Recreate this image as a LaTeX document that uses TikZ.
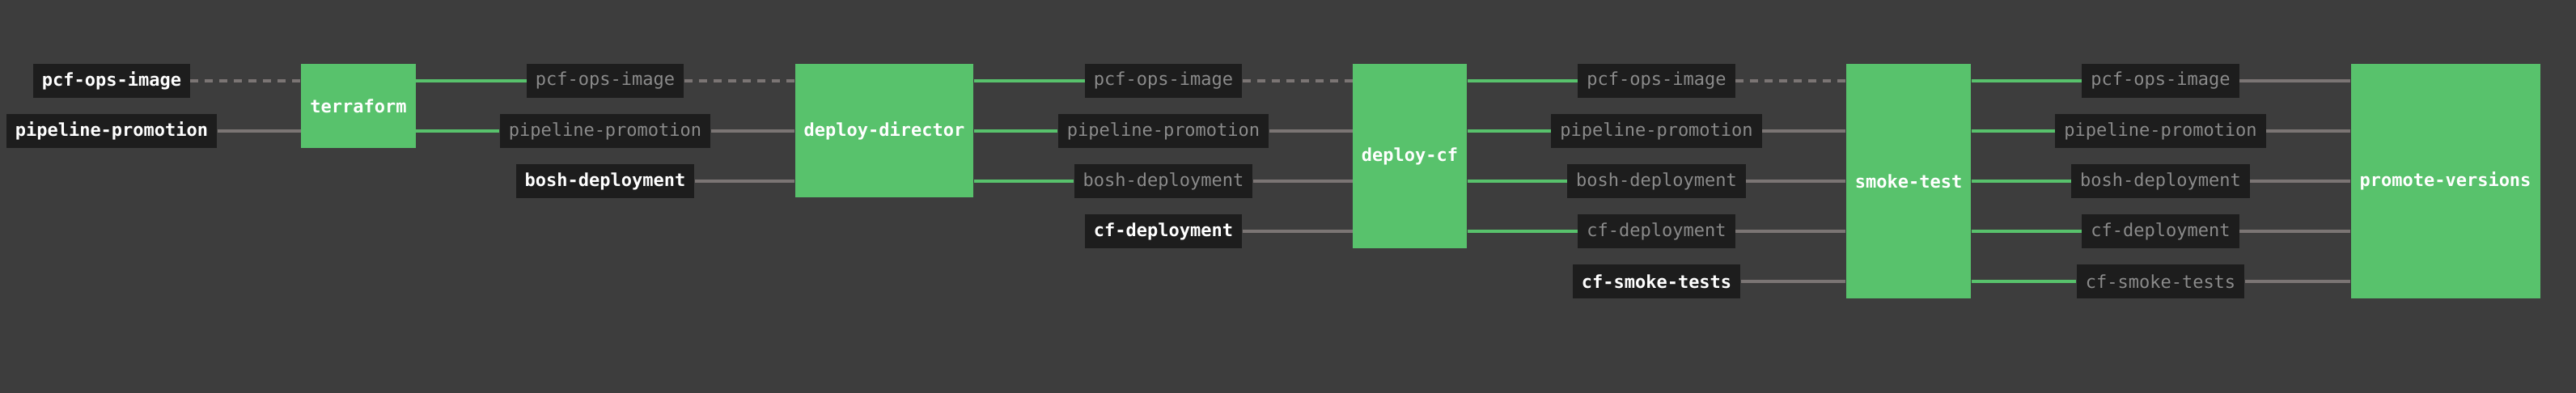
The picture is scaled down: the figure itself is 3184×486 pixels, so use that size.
\documentclass[tikz,border=0pt]{standalone}
\usepackage{fontspec}
\setmonofont{DejaVu Sans Mono}
\definecolor{pipebg}{HTML}{3D3D3D}
\definecolor{resbg}{HTML}{1D1D1D}
\definecolor{jobgreen}{HTML}{58C26C}
\definecolor{wiregray}{HTML}{7B7574}
\definecolor{passedtext}{HTML}{8B8B8B}

\begin{document}
\begin{tikzpicture}[x=0.5pt,y=-0.5pt,
  res/.style={fill=resbg, text=white, font=\ttfamily\bfseries\fontsize{11}{13}\selectfont,
    inner xsep=5.5pt, inner ysep=0pt, minimum height=21pt},
  passed/.style={res, text=passedtext, font=\ttfamily\fontsize{11}{13}\selectfont},
  job/.style={fill=jobgreen, text=white, font=\ttfamily\bfseries\fontsize{11}{13}\selectfont,
    inner xsep=5.5pt, inner ysep=0pt},
  wire/.style={draw=wiregray, line width=2pt},
  dwire/.style={wire, dash pattern=on 5pt off 4pt},
  gwire/.style={draw=jobgreen, line width=2pt}]
\fill[pipebg] (0,0) rectangle (3184,486);
\useasboundingbox (0,0) rectangle (3184,486);

% terraform
\node[res] (pcfa) at (138,100) {pcf-ops-image};
\node[res] (ppa) at (138,162) {pipeline-promotion};
\node[job, minimum height=52pt] (tf) at (443,131) {terraform};
\path[dwire] (pcfa.east) -- (pcfa.east -| tf.west);
\path[wire] (ppa.east) -- (ppa.east -| tf.west);

% deploy-director
\node[passed] (pcfb) at (748,100) {pcf-ops-image};
\node[passed] (ppb) at (748,162) {pipeline-promotion};
\node[res] (boshb) at (748,224) {bosh-deployment};
\node[job, minimum height=82.5pt] (dd) at (1093,161.5) {deploy-director};
\path[gwire] (tf.east |- pcfb.west) -- (pcfb.west);
\path[gwire] (tf.east |- ppb.west) -- (ppb.west);
\path[dwire] (pcfb.east) -- (pcfb.east -| dd.west);
\path[wire] (ppb.east) -- (ppb.east -| dd.west);
\path[wire] (boshb.east) -- (boshb.east -| dd.west);

% deploy-cf
\node[passed] (pcfc) at (1438,100) {pcf-ops-image};
\node[passed] (ppc) at (1438,162) {pipeline-promotion};
\node[passed] (boshc) at (1438,224) {bosh-deployment};
\node[res] (cfc) at (1438,286) {cf-deployment};
\node[job, minimum height=114pt] (dcf) at (1742.5,193) {deploy-cf};
\path[gwire] (dd.east |- pcfc.west) -- (pcfc.west);
\path[gwire] (dd.east |- ppc.west) -- (ppc.west);
\path[gwire] (dd.east |- boshc.west) -- (boshc.west);
\path[dwire] (pcfc.east) -- (pcfc.east -| dcf.west);
\path[wire] (ppc.east) -- (ppc.east -| dcf.west);
\path[wire] (boshc.east) -- (boshc.east -| dcf.west);
\path[wire] (cfc.east) -- (cfc.east -| dcf.west);

% smoke-test
\node[passed] (pcfd) at (2047.5,100) {pcf-ops-image};
\node[passed] (ppd) at (2047.5,162) {pipeline-promotion};
\node[passed] (boshd) at (2047.5,224) {bosh-deployment};
\node[passed] (cfd) at (2047.5,286) {cf-deployment};
\node[res] (smkd) at (2047.5,348) {cf-smoke-tests};
\node[job, minimum height=145pt] (st) at (2359,224) {smoke-test};
\path[gwire] (dcf.east |- pcfd.west) -- (pcfd.west);
\path[gwire] (dcf.east |- ppd.west) -- (ppd.west);
\path[gwire] (dcf.east |- boshd.west) -- (boshd.west);
\path[gwire] (dcf.east |- cfd.west) -- (cfd.west);
\path[dwire] (pcfd.east) -- (pcfd.east -| st.west);
\path[wire] (ppd.east) -- (ppd.east -| st.west);
\path[wire] (boshd.east) -- (boshd.east -| st.west);
\path[wire] (cfd.east) -- (cfd.east -| st.west);
\path[wire] (smkd.east) -- (smkd.east -| st.west);

% promote-versions
\node[passed] (pcfe) at (2670.5,100) {pcf-ops-image};
\node[passed] (ppe) at (2670.5,162) {pipeline-promotion};
\node[passed] (boshe) at (2670.5,224) {bosh-deployment};
\node[passed] (cfe) at (2670.5,286) {cf-deployment};
\node[passed] (smke) at (2670.5,348) {cf-smoke-tests};
\node[job, minimum height=145pt] (pv) at (3022.5,224) {promote-versions};
\path[gwire] (st.east |- pcfe.west) -- (pcfe.west);
\path[gwire] (st.east |- ppe.west) -- (ppe.west);
\path[gwire] (st.east |- boshe.west) -- (boshe.west);
\path[gwire] (st.east |- cfe.west) -- (cfe.west);
\path[gwire] (st.east |- smke.west) -- (smke.west);
\path[wire] (pcfe.east) -- (pcfe.east -| pv.west);
\path[wire] (ppe.east) -- (ppe.east -| pv.west);
\path[wire] (boshe.east) -- (boshe.east -| pv.west);
\path[wire] (cfe.east) -- (cfe.east -| pv.west);
\path[wire] (smke.east) -- (smke.east -| pv.west);
\end{tikzpicture}
\end{document}
